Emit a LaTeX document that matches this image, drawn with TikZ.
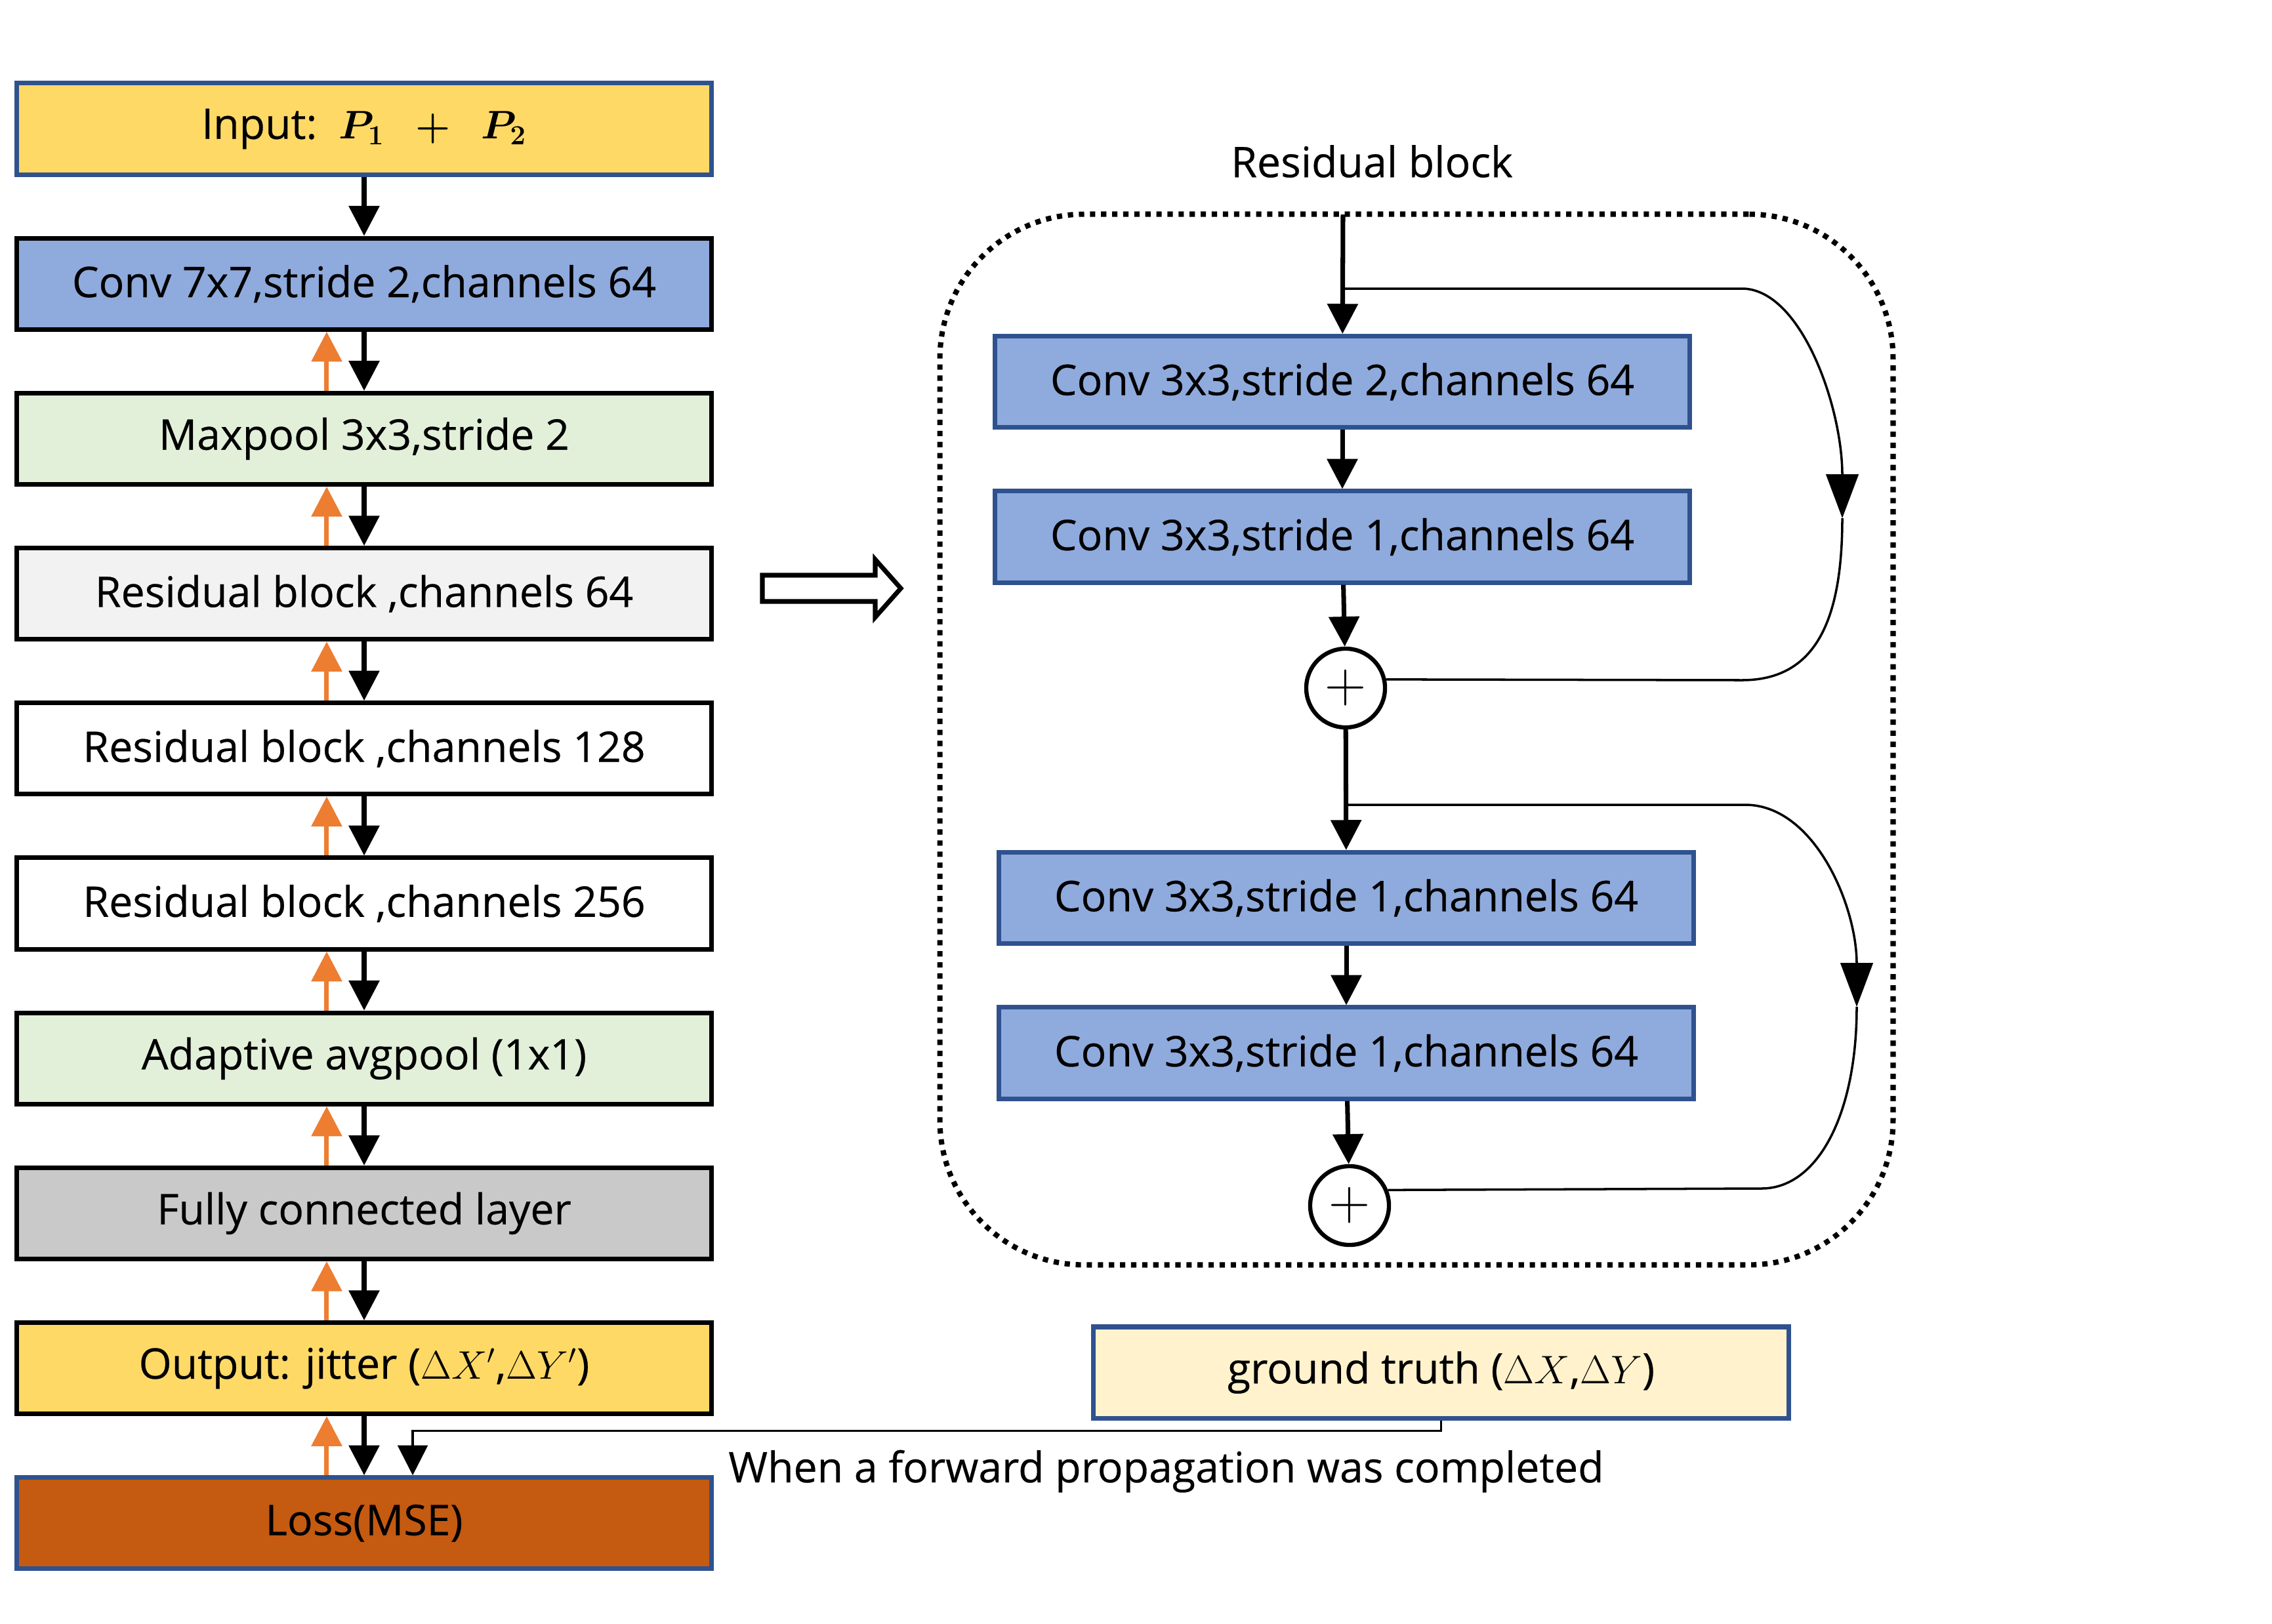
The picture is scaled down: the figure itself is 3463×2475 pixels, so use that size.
\documentclass[tikz,border=0pt]{standalone}
\usepackage{amsmath}
\usepackage{amssymb}
\usepackage{fontspec}
\setmainfont{Open Sans}
\newfontfamily\boxfont{Open Sans}[FakeBold=0.4]
\usetikzlibrary{arrows.meta}

\definecolor{inyellow}{HTML}{FFD966}
\definecolor{convblue}{HTML}{8FAADC}
\definecolor{poolgreen}{HTML}{E2F0D9}
\definecolor{resgray}{HTML}{F2F2F2}
\definecolor{fcgray}{HTML}{C9C9C9}
\definecolor{lossbrown}{HTML}{C55A11}
\definecolor{gtcream}{HTML}{FFF2CC}
\definecolor{edgeblue}{HTML}{2F528F}
\definecolor{backorange}{HTML}{ED7D31}

\tikzset{
  block/.style={draw, line width=2pt, minimum width=10.59cm, minimum height=1.39cm, inner sep=0pt},
  edged/.style={block, draw=edgeblue},
  fwd/.style={line width=2pt, -{Triangle[length=13pt,width=13pt]}},
  bwd/.style={fwd, draw=backorange},
  sum/.style={draw, circle, line width=1.8pt, minimum size=1.2cm, inner sep=0pt,
    font=\fontsize{26}{26}\selectfont},
  skip/.style={line width=1pt},
  skiptip/.style={skip, -{Triangle[length=19pt,width=14pt]}},
  frame/.style={draw, line width=2.3pt, dash pattern=on 2.3pt off 2.5pt, rounded corners=2.2cm,
    minimum width=14.52cm, minimum height=16.01cm}
}

\begin{document}
\begin{tikzpicture}[x=0.01cm, y=-0.01cm, font=\boxfont\fontsize{18.3}{22}\selectfont]
\useasboundingbox (0,0) rectangle (3463,2475);

% main network
\node[edged, fill=inyellow] (in) at (555,196.5) {Input:\ \ $\boldsymbol{P_1}\ \ \boldsymbol{+}\ \ \boldsymbol{P_2}$};
\node[block, fill=convblue] (conv) at (555,432.7) {Conv 7x7,stride 2,channels 64};
\node[block, fill=poolgreen] (pool) at (555,668.9) {Maxpool 3x3,stride 2};
\node[block, fill=resgray] (resa) at (555,905.1) {Residual block ,channels 64};
\node[block] (resb) at (555,1141.3) {Residual block ,channels 128};
\node[block] (resc) at (555,1377.5) {Residual block ,channels 256};
\node[block, fill=poolgreen] (avg) at (555,1613.7) {Adaptive avgpool (1x1)};
\node[block, fill=fcgray] (fc) at (555,1849.9) {Fully connected layer};
\node[block, fill=inyellow] (out) at (555,2086.1) {Output: jitter ($\Delta X'$,$\Delta Y'$)};
\node[edged, fill=lossbrown] (loss) at (555,2322.3) {Loss(MSE)};

\draw[fwd] (in) -- (conv);
\foreach \a/\b in {conv/pool, pool/resa, resa/resb, resb/resc, resc/avg, avg/fc, fc/out, out/loss} {
  \draw[fwd] (\a) -- (\b);
  \draw[bwd] ([xshift=-0.57cm]\b.north) -- ([xshift=-0.57cm]\a.south);
}

% ground truth
\node[edged, fill=gtcream] (gt) at (2196.5,2092.5) {ground truth ($\Delta X$,$\Delta Y$)};
\draw[skip, -{Triangle[length=13pt,width=13pt]}] (gt.south) -- ++(0,16) -| ([xshift=0.74cm]loss.north);
\node[anchor=base west] (note) at (1098,2260) {When a forward propagation was completed};

% pointer to the block
\draw[line width=2pt] (1162,877) -- (1334,877) -- (1334,853) -- (1373,897) -- (1334,941) -- (1334,917) -- (1162,917) -- cycle;

% residual block
\node[frame] (rblock) at (2159,1127.5) {};
\node (rtitle) at (2091,246) {Residual block};
\coordinate (rin) at (2047,327);
\node[edged, fill=convblue] (rconva) at (2046,582) {Conv 3x3,stride 2,channels 64};
\node[edged, fill=convblue] (rconvb) at (2046,818.5) {Conv 3x3,stride 1,channels 64};
\node[sum] (plusa) at (2051,1049) {$+$};
\node[edged, fill=convblue] (rconvc) at (2052,1369) {Conv 3x3,stride 1,channels 64};
\node[edged, fill=convblue] (rconvd) at (2052,1605.5) {Conv 3x3,stride 1,channels 64};
\node[sum] (plusb) at (2057,1838) {$+$};

\draw[fwd] (rin) -- (rconva);
\draw[fwd] (rconva) -- (rconvb);
\draw[fwd] (rconvb) -- (plusa);
\draw[fwd] (plusa) -- (rconvc);
\draw[fwd] (rconvc) -- (rconvd);
\draw[fwd] (rconvd) -- (plusb);

% shortcuts
\coordinate (ska) at (2047,440);
\coordinate (skam) at (2808,790);
\draw[skiptip] (ska) -- (2655,440) .. controls (2745,440) and (2808,620) .. (skam);
\draw[skip] (skam) .. controls (2808,950) and (2765,1037) .. (2655,1037) -- (plusa.12);
\coordinate (skb) at (2054,1227);
\coordinate (skbm) at (2830,1535);
\draw[skiptip] (skb) -- (2660,1227) .. controls (2765,1227) and (2830,1380) .. (skbm);
\draw[skip] (skbm) .. controls (2830,1700) and (2770,1812) .. (2685,1812) -- (plusb.22);
\end{tikzpicture}
\end{document}
